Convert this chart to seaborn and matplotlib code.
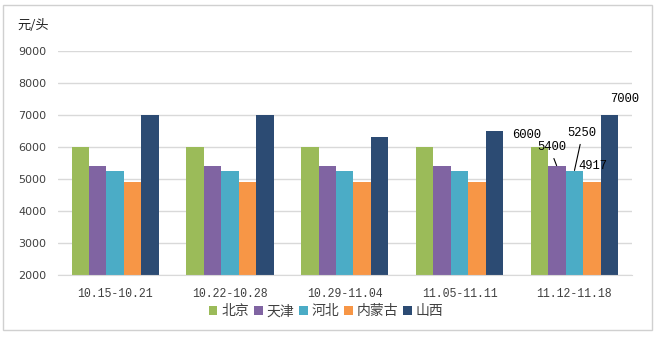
import matplotlib
matplotlib.use("Agg")
import matplotlib.pyplot as plt
from matplotlib.patches import Rectangle
import seaborn as sns
import pandas as pd

# Weekly prices per head by region
weeks = ["10.15-10.21", "10.22-10.28", "10.29-11.04", "11.05-11.11", "11.12-11.18"]
regions = ["北京", "天津", "河北", "内蒙古", "山西"]
beijing = [6000, 6000, 6000, 6000, 6000]
tianjin = [5400, 5400, 5400, 5400, 5400]
hebei = [5250, 5250, 5250, 5250, 5250]
neimenggu = [4917, 4917, 4917, 4917, 4917]
shanxi = [7000, 7000, 6300, 6500, 7000]
colors = ["#9BBB59", "#8064A2", "#4BACC6", "#F79646", "#2C4B73"]

series = [beijing, tianjin, hebei, neimenggu, shanxi]
df = pd.DataFrame(
    [(w, r, v[i]) for r, v in zip(regions, series) for i, w in enumerate(weeks)],
    columns=["week", "region", "price"],
)

sns.set_style("white")
plt.rcParams["font.family"] = ["Noto Sans CJK SC", "DejaVu Sans"]

fig = plt.figure(figsize=(6.56, 3.38), dpi=100)
ax = fig.add_axes([0.088, 0.186, 0.875, 0.663])

sns.barplot(data=df, x="week", y="price", hue="region", order=weeks,
            hue_order=regions, palette=colors, width=0.76, saturation=1,
            linewidth=0, edgecolor="none", ax=ax, legend=True)

ax.set_ylim(2000, 9000)
ax.set_yticks(range(2000, 9001, 1000))
ax.yaxis.grid(True, color="#D9D9D9", linewidth=1)
ax.set_axisbelow(True)
for s in ["left", "right", "top"]:
    ax.spines[s].set_visible(False)
ax.spines["bottom"].set_color("#D9D9D9")
ax.tick_params(axis="both", length=0)
ax.tick_params(axis="y", labelsize=8, labelcolor="#404040", pad=8)
for lbl in ax.get_yticklabels():
    lbl.set_family("DejaVu Sans")
ax.set_xticks(range(len(weeks)))
ax.set_xticklabels(weeks, family="Liberation Mono", fontsize=8.3, color="#404040")
ax.tick_params(axis="x", pad=9)
ax.set_xlabel("")
ax.set_ylabel("")

fig.text(0.026, 0.915, "元/头", fontsize=9.5, color="#222222")

# Value labels on the last week's bars (offsets in pixels, optional leader line)
last = len(weeks) - 1
offsets = [(-13, 12, False), (-5, 19, True), (7, 38, True), (1, 16, False), (15, 16, False)]
for cont, vals, (dx, dy, line) in zip(ax.containers, series, offsets):
    bar = cont.patches[last]
    x = bar.get_x() + bar.get_width() / 2
    y = vals[last]
    arrow = None
    if line:
        arrow = dict(arrowstyle="-", color="black", lw=0.8, relpos=(0.5, 0.0),
                     shrinkA=1.5, shrinkB=0.5)
    ax.annotate(str(vals[last]), xy=(x, y), xytext=(dx, dy), textcoords="offset pixels",
                ha="center", va="center", fontsize=8.7, family="Liberation Mono",
                color="black", arrowprops=arrow)

leg = ax.legend(loc="upper center", bbox_to_anchor=(0.468, -0.105), ncol=5, frameon=False,
                fontsize=10, handlelength=0.6, handleheight=0.6, handletextpad=0.3,
                columnspacing=0.35, borderaxespad=0)
for t in leg.get_texts():
    t.set_color("#404040")

fig.patches.append(Rectangle((0.005, 0.024), 0.989, 0.962, transform=fig.transFigure,
                             fill=False, edgecolor="#D0D0D0", linewidth=1))

fig.savefig("out.png", dpi=100, facecolor="white")
